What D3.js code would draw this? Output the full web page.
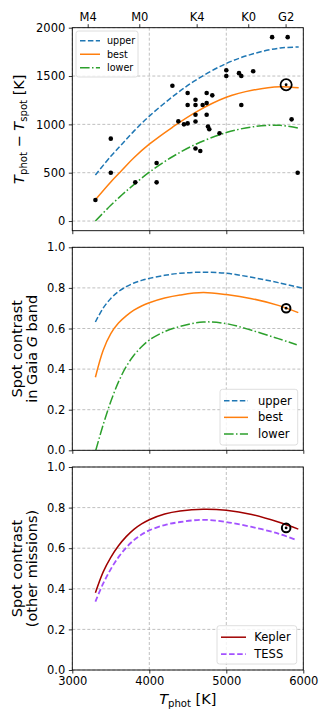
<!DOCTYPE html>
<html>
<head>
<meta charset="utf-8">
<script src="https://cdn.jsdelivr.net/npm/d3@7"></script>
<style>
  body { margin: 0; background: #fff; }
  svg { display: block; font-family: "DejaVu Sans", sans-serif; }
</style>
</head>
<body>
<svg id="chart" width="327" height="721"></svg>
<script>
// ---- data ----

// spectral types on the top axis
const specTypes = ['M4', 'M0', 'K4', 'K0', 'G2'];
const specTemps = [3200, 3870, 4615, 5285, 5770];

// star sample: T_phot and T_phot - T_spot
const starTphot = [3300, 3500, 3500, 3818, 4095, 4095, 4300, 4377, 4450, 4498, 4498, 4498,
  4600, 4600, 4600, 4600, 4600, 4662, 4693, 4745, 4745, 4745, 4762, 4779, 4818, 4912,
  5000, 5000, 5165, 5195, 5195, 5349, 5595, 5797, 5848, 5927];
const starDeltaT = [217, 852, 500, 400, 600, 400, 1400, 1031, 1000, 1010, 1325, 1200,
  1255, 1200, 1100, 1030, 750, 725, 1200, 1325, 1220, 1100, 978, 950, 1300, 908,
  1560, 1500, 1530, 1500, 1200, 1550, 1902, 1902, 1052, 500];

// the Sun
const sunTphot = 5777;
const sunDeltaT = 1410;
const sunContrastGaia = 0.70;
const sunContrastOther = 0.70;

// panel 1: T_phot - T_spot relations
const deltaTemps = [3300, 3500, 3650, 3800, 4000, 4300, 4600, 5000, 5350, 5700, 5940];
const deltaUpper = [476, 670, 800, 930, 1085, 1285, 1455, 1630, 1730, 1790, 1800];
const deltaBest  = [221, 405, 530, 655, 795, 970, 1125, 1280, 1355, 1390, 1378];
const deltaLower = [0, 163, 274, 377, 505, 665, 793, 915, 975, 990, 960];

// panel 2: spot contrast in the Gaia G band
const gaiaUpperT = [3300, 3400, 3500, 3600, 3700, 3800, 3900, 4000, 4200, 4400, 4650, 5000, 5330, 5675, 6000];
const gaiaUpper  = [0.632, 0.700, 0.748, 0.782, 0.806, 0.824, 0.837, 0.847, 0.862, 0.872, 0.877, 0.872, 0.852, 0.826, 0.798];
const gaiaBestT  = [3300, 3400, 3500, 3600, 3700, 3800, 3900, 4000, 4200, 4400, 4700, 5000, 5330, 5675, 5935];
const gaiaBest   = [0.360, 0.492, 0.575, 0.627, 0.662, 0.690, 0.711, 0.727, 0.750, 0.765, 0.777, 0.767, 0.747, 0.714, 0.678];
const gaiaLowerT = [3305, 3400, 3500, 3600, 3700, 3800, 3900, 4000, 4200, 4400, 4700, 5000, 5330, 5675, 5915];
const gaiaLower  = [0.0, 0.125, 0.240, 0.337, 0.412, 0.468, 0.510, 0.543, 0.585, 0.610, 0.632, 0.624, 0.591, 0.550, 0.520];

// panel 3: spot contrast for Kepler and TESS
const keplerT    = [3300, 3400, 3500, 3600, 3700, 3800, 3900, 4000, 4200, 4400, 4700, 5000, 5330, 5675, 5935];
const keplerVals = [0.380, 0.482, 0.555, 0.612, 0.657, 0.693, 0.720, 0.740, 0.768, 0.783, 0.792, 0.787, 0.766, 0.729, 0.694];
const tessT      = [3300, 3400, 3500, 3600, 3700, 3800, 3900, 4000, 4200, 4400, 4700, 5000, 5330, 5675, 5900];
const tessVals   = [0.337, 0.425, 0.497, 0.556, 0.603, 0.640, 0.667, 0.688, 0.714, 0.729, 0.740, 0.729, 0.705, 0.672, 0.642];

const xTicks = [3000, 4000, 5000, 6000];

// ---- layout ----
const svg = d3.select('#chart');
const left = 72.3, right = 303.3;
const panelH = 203;
const panelTops = [27.7, 247.3, 467];

const x = d3.scaleLinear().domain([3000, 6000]).range([left, right]);

const blue = '#1f77b4', orange = '#ff7f0e', green = '#2ca02c';
const darkRed = '#a00000', violet = '#a352ff';

const zip = (xs, ys) => xs.map((t, i) => [t, ys[i]]);

function makePanel(i, yDomain, yTicks, fmt) {
  const top = panelTops[i];
  const y = d3.scaleLinear().domain(yDomain).range([top + panelH, top]);
  const g = svg.append('g');

  svg.append('clipPath').attr('id', 'clip' + i)
    .append('rect').attr('x', left).attr('y', top).attr('width', right - left).attr('height', panelH);

  // grid
  const grid = g.append('g').attr('stroke', '#b0b0b0').attr('stroke-width', 0.8)
    .attr('stroke-dasharray', '3,2');
  grid.selectAll('.gx').data(xTicks).join('line')
    .attr('x1', d => x(d)).attr('x2', d => x(d))
    .attr('y1', top).attr('y2', top + panelH);
  grid.selectAll('.gy').data(yTicks).join('line')
    .attr('x1', left).attr('x2', right)
    .attr('y1', d => y(d)).attr('y2', d => y(d));

  // axes
  const yAxis = g.append('g').attr('transform', `translate(${left},0)`)
    .call(d3.axisLeft(y).tickValues(yTicks).tickFormat(fmt).tickSize(3.5).tickPadding(3.5));
  const xAxis = g.append('g').attr('transform', `translate(0,${top + panelH})`)
    .call(d3.axisBottom(x).tickValues(xTicks).tickFormat(i === 2 ? d3.format('d') : '')
      .tickSize(3.5).tickPadding(3.5));
  [yAxis, xAxis].forEach(a => {
    a.select('.domain').remove();
    a.selectAll('line').attr('stroke', '#000').attr('stroke-width', 0.8);
    a.selectAll('text').attr('fill', '#000').style('font-size', '11.5px')
      .style('font-family', '"DejaVu Sans", sans-serif');
  });

  const plot = g.append('g').attr('clip-path', `url(#clip${i})`);

  // frame drawn last
  const frame = () => g.append('rect').attr('x', left).attr('y', top)
    .attr('width', right - left).attr('height', panelH)
    .attr('fill', 'none').attr('stroke', '#000').attr('stroke-width', 0.9);

  return { g, plot, y, top, frame };
}

function drawLine(p, pts, color, dash, width) {
  const line = d3.line().x(d => x(d[0])).y(d => p.y(d[1])).curve(d3.curveCatmullRom.alpha(0.5));
  p.plot.append('path').datum(pts)
    .attr('d', line).attr('fill', 'none').attr('stroke', color)
    .attr('stroke-width', width || 1.5)
    .attr('stroke-dasharray', dash || null);
}

function drawSun(p, t, v, r, sw) {
  p.g.append('circle').attr('cx', x(t)).attr('cy', p.y(v)).attr('r', r)
    .attr('fill', 'none').attr('stroke', '#000').attr('stroke-width', sw);
  p.g.append('circle').attr('cx', x(t)).attr('cy', p.y(v)).attr('r', 1.4).attr('fill', '#000');
}

function drawLegend(g, bx, by, bw, bh, items, fs, rowH, hx, hw, tx) {
  g.append('rect').attr('x', bx).attr('y', by).attr('width', bw).attr('height', bh)
    .attr('rx', 2.5).attr('fill', '#fff').attr('fill-opacity', 0.8)
    .attr('stroke', '#d5d5d5').attr('stroke-width', 0.8);
  items.forEach((it, k) => {
    const cy = by + rowH * 0.5 + 3 + k * rowH;
    g.append('line').attr('x1', hx).attr('x2', hx + hw).attr('y1', cy).attr('y2', cy)
      .attr('stroke', it.color).attr('stroke-width', it.width || 1.5)
      .attr('stroke-dasharray', it.dash || null);
    g.append('text').attr('x', tx).attr('y', cy).attr('dy', '0.35em')
      .style('font-size', fs + 'px').text(it.label);
  });
}

const dashed = '5.5,2.4';
const dashDot = '9.6,2.4,1.5,2.4';

// ---- panel 1 ----
const p1 = makePanel(0, [-100, 2000], [0, 500, 1000, 1500, 2000], d3.format('d'));
drawLine(p1, zip(deltaTemps, deltaUpper), blue, dashed);
drawLine(p1, zip(deltaTemps, deltaBest), orange);
drawLine(p1, zip(deltaTemps, deltaLower), green, dashDot);
p1.g.append('g').selectAll('circle').data(zip(starTphot, starDeltaT)).join('circle')
  .attr('cx', d => x(d[0])).attr('cy', d => p1.y(d[1])).attr('r', 2.3).attr('fill', '#000');
drawSun(p1, sunTphot, sunDeltaT, 5.6, 1.8);

// top axis with spectral types
const topAxis = svg.append('g').attr('transform', `translate(0,${p1.top})`)
  .call(d3.axisTop(x).tickValues(specTemps).tickFormat((d, k) => specTypes[k])
    .tickSize(3.5).tickPadding(3.5));
topAxis.select('.domain').remove();
topAxis.selectAll('line').attr('stroke', '#000').attr('stroke-width', 0.8);
topAxis.selectAll('text').attr('fill', '#000').style('font-size', '11.5px')
  .style('font-family', '"DejaVu Sans", sans-serif');

drawLegend(p1.g, 76, 31, 62, 46, [
  { label: 'upper', color: blue, dash: dashed },
  { label: 'best', color: orange },
  { label: 'lower', color: green, dash: dashDot }
], 9.6, 13.5, 80, 20, 107);
p1.frame();

// ---- panel 2 ----
const p2 = makePanel(1, [0, 1], [0, 0.2, 0.4, 0.6, 0.8, 1.0], d3.format('.1f'));
drawLine(p2, zip(gaiaUpperT, gaiaUpper), blue, dashed);
drawLine(p2, zip(gaiaBestT, gaiaBest), orange);
drawLine(p2, zip(gaiaLowerT, gaiaLower), green, dashDot);
drawSun(p2, sunTphot, sunContrastGaia, 4.3, 2);
drawLegend(p2.g, 220, 389.3, 77.7, 55.7, [
  { label: 'upper', color: blue, dash: dashed },
  { label: 'best', color: orange },
  { label: 'lower', color: green, dash: dashDot }
], 11.5, 16.7, 224, 24, 258);
p2.frame();

// ---- panel 3 ----
const p3 = makePanel(2, [0, 1], [0, 0.2, 0.4, 0.6, 0.8, 1.0], d3.format('.1f'));
drawLine(p3, zip(keplerT, keplerVals), darkRed);
drawLine(p3, zip(tessT, tessVals), violet, '5.5,2.6', 1.8);
drawSun(p3, sunTphot, sunContrastOther, 4.3, 2);
drawLegend(p3.g, 217, 625.7, 79.7, 38.3, [
  { label: 'Kepler', color: darkRed },
  { label: 'TESS', color: violet, dash: '5.5,2.6', width: 1.8 }
], 11.5, 17, 221, 25, 254.3);
p3.frame();

// ---- axis titles ----
const labelSize = 14.5;
function yLabel(cx, cy, build) {
  const t = svg.append('text')
    .attr('transform', `translate(${cx},${cy}) rotate(-90)`)
    .attr('text-anchor', 'middle').attr('dy', '0.35em')
    .style('font-size', labelSize + 'px');
  build(t);
}
function sub(t, s) {
  t.append('tspan').attr('font-style', 'italic').text('T');
  t.append('tspan').attr('baseline-shift', '-25%').style('font-size', (labelSize * 0.7) + 'px').text(s);
}

const c1 = panelTops[0] + panelH / 2;
yLabel(19, c1, t => {
  sub(t, 'phot');
  t.append('tspan').text(' \u2212 ');
  sub(t, 'spot');
  t.append('tspan').text(' [K]');
});

const c2 = panelTops[1] + panelH / 2;
yLabel(16.7, c2, t => t.text('Spot contrast'));
yLabel(32, c2, t => {
  t.append('tspan').text('in Gaia ');
  t.append('tspan').attr('font-style', 'italic').text('G');
  t.append('tspan').text(' band');
});

const c3 = panelTops[2] + panelH / 2;
yLabel(16.7, c3, t => t.text('Spot contrast'));
yLabel(32, c3, t => t.text('(other missions)'));

const xl = svg.append('text').attr('x', (left + right) / 2).attr('y', 704)
  .attr('text-anchor', 'middle').style('font-size', labelSize + 'px');
sub(xl, 'phot');
xl.append('tspan').text(' [K]');
</script>
</body>
</html>
